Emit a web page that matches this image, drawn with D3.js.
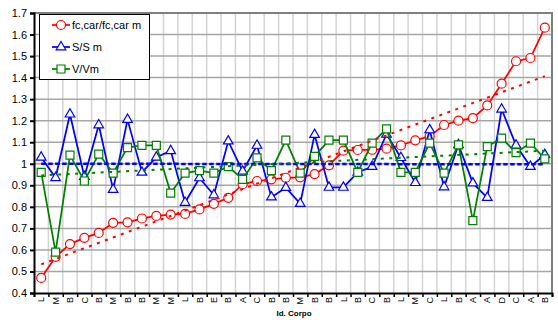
<!DOCTYPE html>
<html>
<head>
<meta charset="utf-8">
<script src="https://cdn.jsdelivr.net/npm/d3@7"></script>
<style>
  body { margin: 0; background: #fff; }
  text { font-family: Arial, "Liberation Sans", sans-serif; }
</style>
</head>
<body>
<div id="chart"></div>
<script>
// categories (Id. Corpo)
var categories = ["L","M","B","C","B","M","B","B","M","M","L","B","E","B","A","C","B",
                  "B","M","B","B","L","B","C","B","L","M","C","L","B","A","A","D","C","A","B"];

// series values
var fcRatio = [0.47, 0.568, 0.627, 0.656, 0.679, 0.726, 0.728, 0.746, 0.758, 0.764, 0.767, 0.788,
               0.814, 0.842, 0.905, 0.92, 0.928, 0.935, 0.937, 0.952, 0.993, 1.061, 1.064, 1.065,
               1.07, 1.085, 1.109, 1.128, 1.18, 1.2, 1.212, 1.271, 1.372, 1.476, 1.491, 1.632];
var sRatio = [1.03, 0.935, 1.23, 0.94, 1.18, 0.88, 1.205, 0.96, 1.03, 1.06, 0.82, 0.934,
              0.855, 1.105, 0.965, 1.085, 0.845, 0.889, 0.815, 1.135, 0.89, 0.89, 0.96, 0.987,
              1.137, 1.028, 0.912, 1.157, 0.892, 1.088, 0.91, 0.843, 1.253, 1.086, 0.987, 1.042];
var vRatio = [0.96, 0.59, 1.04, 0.92, 1.045, 0.957, 1.075, 1.085, 1.085, 0.864, 0.957, 0.968,
              0.957, 0.987, 0.928, 1.027, 0.968, 1.11, 0.957, 1.034, 1.11, 1.11, 0.96, 1.096,
              1.162, 0.96, 0.96, 1.096, 0.957, 1.088, 0.736, 1.08, 1.119, 1.052, 1.096, 1.023];

var seriesNames = ["fc,car/fc,car m", "S/S m", "V/Vm"];
var seriesColors = ["#ff0000", "#0000ff", "#008000"];
var yTicks = [0.4, 0.5, 0.6, 0.7, 0.8, 0.9, 1.0, 1.1, 1.2, 1.3, 1.4, 1.5, 1.6, 1.7];

var width = 558, height = 322;
var plot = {left: 34, right: 552, top: 13, bottom: 293};

var svg = d3.select("#chart").append("svg")
  .attr("width", width)
  .attr("height", height);

var n = categories.length;
var x = d3.scaleLinear().domain([0, n]).range([plot.left, plot.right]);
var y = d3.scaleLinear().domain([0.4, 1.7]).range([plot.bottom, plot.top]);
var cx = (i) => x(i + 0.5);

// gridlines
svg.append("g")
  .selectAll("line")
  .data(d3.range(1, n))
  .enter().append("line")
  .attr("x1", (d) => x(d)).attr("x2", (d) => x(d))
  .attr("y1", plot.top).attr("y2", plot.bottom)
  .style("stroke", "#d4d4d4").style("stroke-width", 1.5);

svg.append("g")
  .selectAll("line")
  .data(yTicks.slice(1))
  .enter().append("line")
  .attr("x1", plot.left).attr("x2", plot.right)
  .attr("y1", (d) => y(d)).attr("y2", (d) => y(d))
  .style("stroke", "#a6a6a6").style("stroke-width", 1.5);

// plot border (top, right)
svg.append("path")
  .attr("d", "M" + plot.left + "," + plot.top + "H" + plot.right + "V" + plot.bottom)
  .style("fill", "none").style("stroke", "#7f7f7f").style("stroke-width", 2);

// y axis
var yAxis = svg.append("g")
  .attr("transform", "translate(" + plot.left + ",0)")
  .call(d3.axisLeft(y).tickValues(yTicks).tickSize(4).tickPadding(3)
    .tickFormat(d3.format("~g")));
yAxis.select(".domain").style("stroke-width", 2);
yAxis.selectAll("line").style("stroke-width", 2);
yAxis.selectAll("text").style("font-size", "11px").style("fill", "#000");

// x axis: tick marks at band edges, labels at centres
var xAxis = svg.append("g")
  .attr("transform", "translate(0," + plot.bottom + ")")
  .call(d3.axisBottom(x).tickValues(d3.range(0, n + 1)).tickSize(4).tickFormat(""));
xAxis.select(".domain").style("stroke-width", 2);
xAxis.selectAll("line").style("stroke-width", 1.5);

svg.append("g")
  .attr("transform", "translate(0," + plot.bottom + ")")
  .selectAll("text")
  .data(categories)
  .enter().append("text")
  .attr("transform", (d, i) => "translate(" + cx(i) + ",0) rotate(-90)")
  .attr("x", -4)
  .attr("dy", "0.35em")
  .style("text-anchor", "end")
  .style("font-size", "9px")
  .text((d) => d);

svg.append("text")
  .attr("x", 294).attr("y", 316)
  .style("text-anchor", "middle")
  .style("font-size", "8px")
  .style("font-weight", "bold")
  .text("Id. Corpo");

// series
var allSeries = [fcRatio, sRatio, vRatio];
var line = d3.line().x((d, i) => cx(i)).y((d) => y(d));

function drawMarker(sel, k, color) {
  if (k === 0) {
    sel.append("circle").attr("r", 4.5)
      .style("fill", "#fff").style("stroke", color).style("stroke-width", 1.2);
  } else if (k === 1) {
    sel.append("path").attr("d", d3.symbol(d3.symbolTriangle, 40)())
      .style("fill", "#fff").style("stroke", color).style("stroke-width", 1.2);
  } else {
    sel.append("path").attr("d", d3.symbol(d3.symbolSquare, 64)())
      .style("fill", "#fff").style("stroke", color).style("stroke-width", 1.2);
  }
}

allSeries.forEach((vals, k) => {
  var g = svg.append("g");
  g.append("path")
    .datum(vals)
    .attr("d", line)
    .style("fill", "none")
    .style("stroke", seriesColors[k])
    .style("stroke-width", 1.75);
  g.selectAll(".pt")
    .data(vals)
    .enter().append("g")
    .attr("class", "pt")
    .attr("transform", (d, i) => "translate(" + cx(i) + "," + y(d) + ")")
    .each(function () { drawMarker(d3.select(this), k, seriesColors[k]); });
});

// linear trendlines (least squares)
function trend(vals) {
  var xs = d3.range(vals.length);
  var mx = d3.mean(xs), my = d3.mean(vals);
  var num = d3.sum(xs, (xi, i) => (xi - mx) * (vals[i] - my));
  var den = d3.sum(xs, (xi) => (xi - mx) * (xi - mx));
  var b = num / den, a = my - b * mx;
  return [0, vals.length - 1].map((xi) => [xi, a + b * xi]);
}
var trendStyles = [
  {dash: "3,5.5", w: 2},
  {dash: "4.5,2.5", w: 2.5},
  {dash: "3,5.5", w: 2}
];
allSeries.forEach((vals, k) => {
  svg.append("path")
    .datum(trend(vals))
    .attr("d", d3.line().x((d) => cx(d[0])).y((d) => y(d[1])))
    .style("fill", "none")
    .style("stroke", seriesColors[k])
    .style("stroke-width", trendStyles[k].w)
    .style("stroke-dasharray", trendStyles[k].dash);
});

// legend
var legend = svg.append("g");
legend.append("rect")
  .attr("x", 39.5).attr("y", 14.5).attr("width", 110).attr("height", 65)
  .style("fill", "#fff").style("stroke", "#000").style("stroke-width", 1);
seriesNames.forEach((name, k) => {
  var ly = 25 + k * 22;
  legend.append("line")
    .attr("x1", 52).attr("x2", 70).attr("y1", ly).attr("y2", ly)
    .style("stroke", seriesColors[k]).style("stroke-width", 1.75);
  var m = legend.append("g").attr("transform", "translate(61," + ly + ")");
  drawMarker(m, k, seriesColors[k]);
  legend.append("text")
    .attr("x", 72).attr("y", ly).attr("dy", "0.35em")
    .style("font-size", "11px")
    .text(name);
});
</script>
</body>
</html>
